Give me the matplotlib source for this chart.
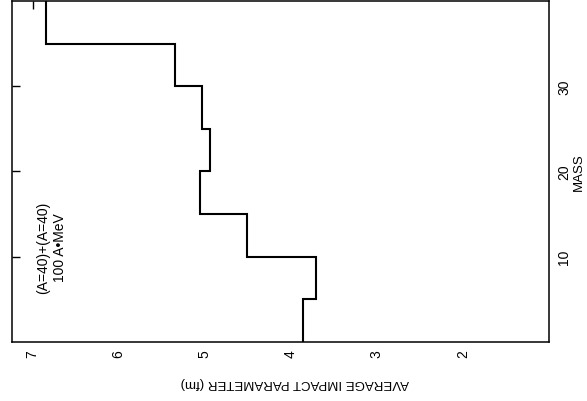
import matplotlib
matplotlib.use("Agg")
import matplotlib.pyplot as plt

# mean impact parameter per fragment-mass bin, (A=40)+(A=40) at 100 A*MeV
mass_edges = [0, 5, 10, 15, 20, 25, 30, 35, 40]
impact_fm = [3.86, 3.71, 4.51, 5.05, 4.94, 5.03, 5.34, 6.84]

impact_ticks = [2, 3, 4, 5, 6, 7]
impact_marks = [4, 5, 6, 7]
mass_ticks = [10, 20, 30]

plt.rcParams["font.family"] = ["Liberation Sans", "DejaVu Sans"]

fig = plt.figure(figsize=(5.87, 4.02), dpi=100)
ax = fig.add_axes([0.0204, 0.1468, 0.9148, 0.8483])

# the page is turned on its side: impact parameter runs right-to-left
# along the bottom, mass runs upward with its labels on the right
ax.stairs(impact_fm, mass_edges, orientation="horizontal", baseline=None,
          color="black", linewidth=1.5)

ax.set_xlim(7.24, 1.0)
ax.set_ylim(0, 40)

ax.set_xticks(impact_ticks)
ax.set_xticklabels([str(v) for v in impact_ticks], rotation=90, fontsize=10)
ax.set_xticks(impact_marks, minor=True)
ax.tick_params(axis="x", which="major", length=0, pad=5)
ax.tick_params(axis="x", which="minor", direction="in", length=5.5,
               width=1.0, bottom=True, top=False)

ax.set_yticks(mass_ticks)
ax.set_yticklabels([str(v) for v in mass_ticks], rotation=90, fontsize=10,
                   va="center")
ax.tick_params(axis="y", direction="in", length=5.5, width=1.0,
               left=True, right=False, labelleft=False, labelright=True, pad=6)

top = ax.secondary_xaxis("top")
top.set_xticks([7])
top.tick_params(direction="in", length=6, width=1.0, labeltop=False)
top.spines["top"].set_visible(False)

for spine in ax.spines.values():
    spine.set_linewidth(1.1)

ax.set_xlabel("AVERAGE IMPACT PARAMETER (fm)", rotation=180, fontsize=9.5)
ax.xaxis.set_label_coords(0.527, -0.10)
ax.yaxis.set_label_position("right")
ax.set_ylabel("MASS", rotation=90, fontsize=9.5, labelpad=1)

ax.text(6.78, 11.2, "(A=40)+(A=40)\n100 A\u2022MeV", rotation=90,
        ha="center", va="center", multialignment="center",
        fontsize=10, linespacing=1.35)

fig.savefig("out.png", dpi=100)
